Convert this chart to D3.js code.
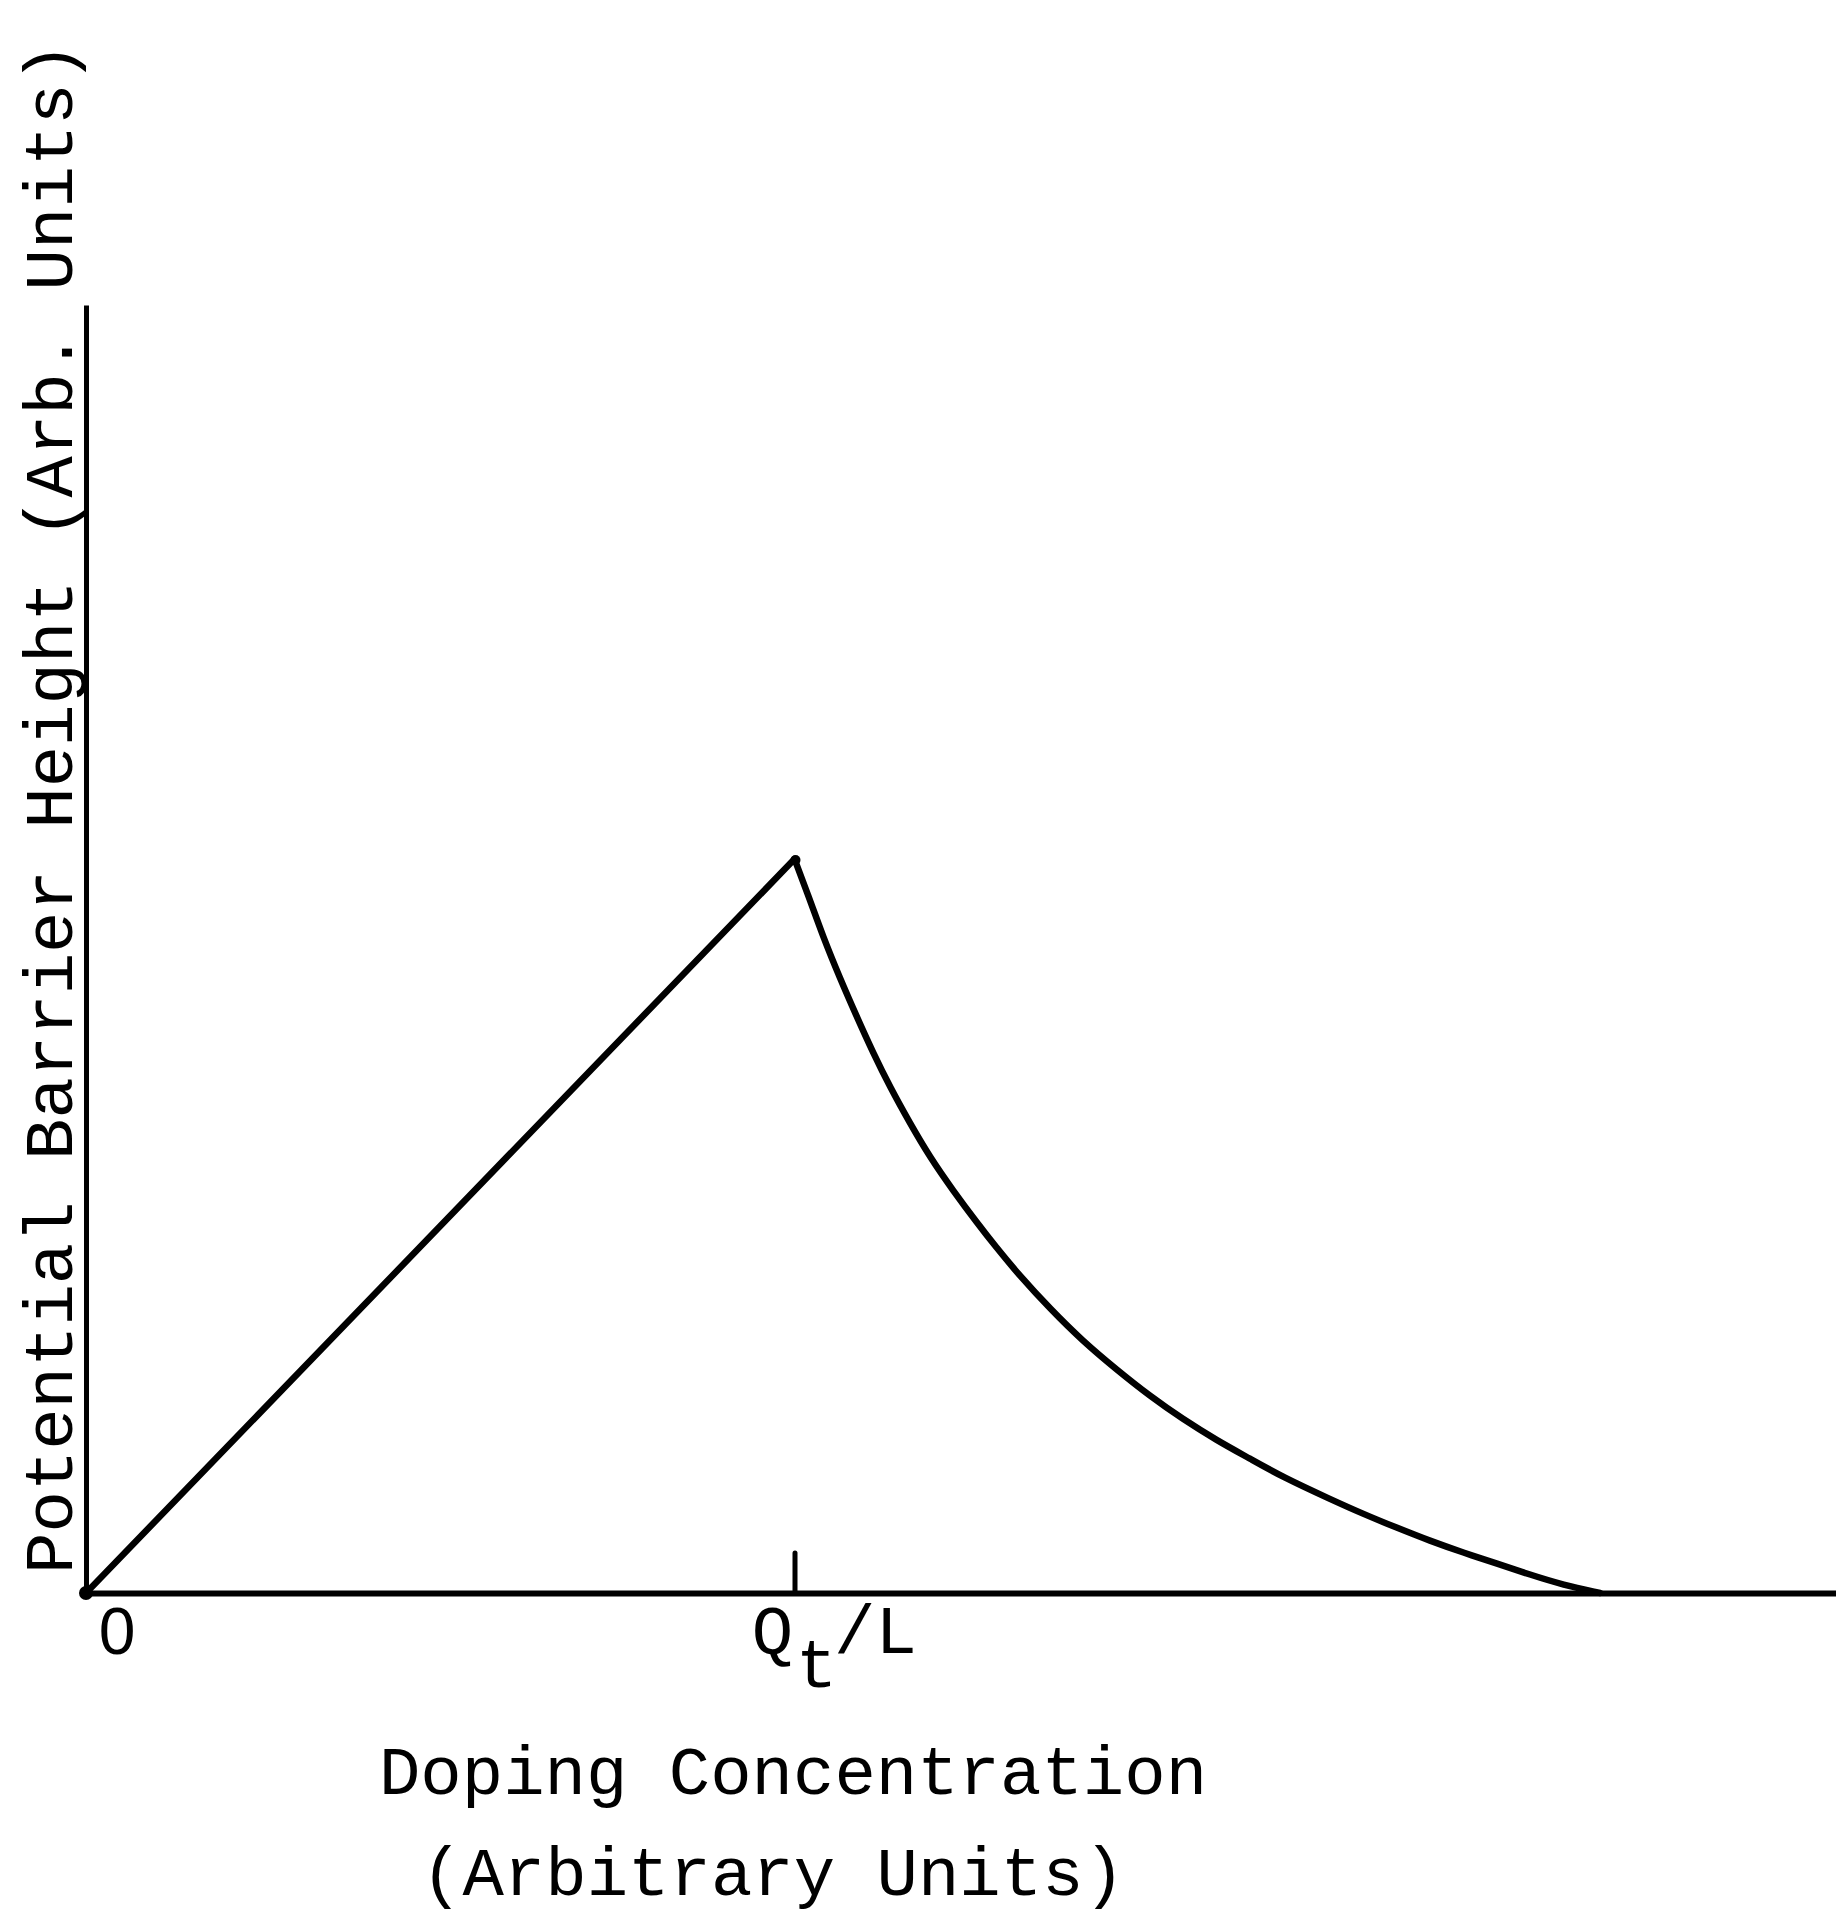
<!DOCTYPE html>
<html>
<head>
<meta charset="utf-8">
<script src="https://cdn.jsdelivr.net/npm/d3@7"></script>
<style>
  body { margin: 0; background: #fff; }
  text { font-family: "Liberation Mono", "Courier New", monospace; fill: #000; }
</style>
</head>
<body>
<div id="chart"></div>
<script>
// Doping concentration in units of Qt/L, barrier height in units of the peak
var risingDoping = [0, 1];
var risingBarrier = [0, 1];

var fallingDoping = [1, 1.022, 1.040, 1.064, 1.088, 1.111, 1.135, 1.163, 1.191, 1.224,
    1.258, 1.283, 1.318, 1.361, 1.407, 1.455, 1.502, 1.548, 1.596, 1.643,
    1.689, 1.756, 1.802, 1.850, 1.897, 1.944, 1.992, 2.038, 2.085, 2.137];
var fallingBarrier = [1, 0.944, 0.895, 0.838, 0.785, 0.736, 0.689, 0.640, 0.594, 0.548,
    0.504, 0.473, 0.432, 0.387, 0.343, 0.304, 0.268, 0.237, 0.208, 0.183,
    0.158, 0.128, 0.108, 0.089, 0.071, 0.055, 0.040, 0.025, 0.011, 0];

var tickValues = [0, 1];

var xTitle = ["Doping Concentration", "(Arbitrary Units)"];
var yTitle = "Potential Barrier Height (Arb. Units)";

// SVG size
var width = 1836,
    height = 1919;

var svg = d3.select("#chart").append("svg")
    .attr("width", width)
    .attr("height", height);

// Scales
var x = d3.scaleLinear()
    .domain([0, 2.47])
    .range([86, 1836]);

var y = d3.scaleLinear()
    .domain([0, 1.755])
    .range([1593, 305]);

// Axes
var xAxis = svg.append("g")
    .attr("transform", "translate(0," + y(0) + ")")
    .call(d3.axisBottom(x).tickValues([1]).tickSizeInner(-40).tickSizeOuter(0).tickFormat(""));

xAxis.select(".domain").attr("stroke", "#000").attr("stroke-width", 6);
xAxis.selectAll(".tick line").attr("stroke", "#000").attr("stroke-width", 5).attr("stroke-linecap", "round");

var yAxis = svg.append("g")
    .attr("transform", "translate(" + x(0) + ",0)")
    .call(d3.axisLeft(y).tickValues([]).tickSizeOuter(0));

yAxis.select(".domain").attr("stroke", "#000").attr("stroke-width", 5);

// Curve
var line = d3.line()
    .x(function(d) { return x(d[0]); })
    .y(function(d) { return y(d[1]); });

svg.append("path")
    .datum(d3.zip(risingDoping, risingBarrier))
    .attr("fill", "none")
    .attr("stroke", "#000")
    .attr("stroke-width", 6.5)
    .attr("stroke-linecap", "round")
    .attr("d", line);

// smooth the hand-read points of the falling branch
svg.append("path")
    .datum(d3.zip(fallingDoping, fallingBarrier))
    .attr("fill", "none")
    .attr("stroke", "#000")
    .attr("stroke-width", 6.5)
    .attr("stroke-linecap", "round")
    .attr("d", line.curve(d3.curveBasis));

// Dots at origin and peak
svg.append("circle")
    .attr("cx", x(0)).attr("cy", y(0)).attr("r", 7);
svg.append("circle")
    .attr("cx", x(1) + 1).attr("cy", y(1) + 1).attr("r", 5);

// Tick labels
svg.append("text")
    .attr("x", x(tickValues[0]) + 31)
    .attr("y", y(0) + 61)
    .attr("text-anchor", "middle")
    .attr("font-size", 66)
    .style("font-family", "'Liberation Sans', sans-serif")
    .text("0");

var qLabel = svg.append("g")
    .attr("transform", "translate(" + x(tickValues[1]) + "," + (y(0) + 60) + ")")
    .attr("font-size", 69);

qLabel.append("text").attr("x", -22).attr("text-anchor", "middle").text("Q");
qLabel.append("text").attr("x", 22).attr("y", 34).attr("text-anchor", "middle").text("t");
qLabel.append("text").attr("x", 81).attr("text-anchor", "middle").text("/L");

// Axis titles
svg.selectAll("text.xtitle")
    .data(xTitle)
    .enter().append("text")
    .attr("class", "xtitle")
    .attr("x", function(d, i) { return i == 0 ? 793 : 773; })
    .attr("y", function(d, i) { return 1794 + i * 101; })
    .attr("text-anchor", "middle")
    .attr("font-size", 69)
    .text(function(d) { return d; });

svg.append("text")
    .attr("transform", "translate(72,808) rotate(-90)")
    .attr("text-anchor", "middle")
    .attr("font-size", 69)
    .text(yTitle);
</script>
</body>
</html>
